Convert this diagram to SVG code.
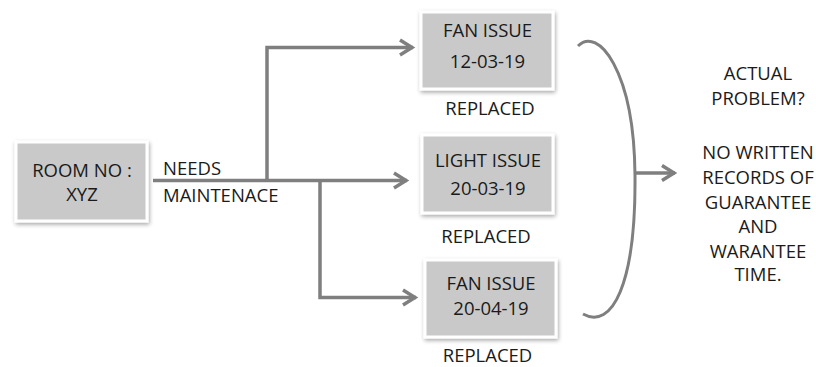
<svg xmlns="http://www.w3.org/2000/svg" width="816" height="367" viewBox="0 0 816 367">
<defs>
<filter id="sh" x="-20%" y="-20%" width="140%" height="140%">
<feGaussianBlur in="SourceAlpha" stdDeviation="2"/>
<feOffset dx="1" dy="2" result="b"/>
<feComponentTransfer><feFuncA type="linear" slope="0.35"/></feComponentTransfer>
<feMerge><feMergeNode/><feMergeNode in="SourceGraphic"/></feMerge>
</filter>
<marker id="ah" markerUnits="userSpaceOnUse" markerWidth="20" markerHeight="20" viewBox="-16 -10 20 20" refX="0" refY="0" orient="auto">
<path d="M-13,-7.5 L-1,0 L-13,7.5" fill="none" stroke="#7f7f7f" stroke-width="3.5" stroke-linejoin="miter"/>
</marker>
</defs>
<style>
.box{fill:#c9c9c9;stroke:#ffffff;stroke-width:3;filter:url(#sh)}
.t{font-family:"Open Sans","Liberation Sans",sans-serif;font-size:18.5px;fill:#1a1a1a}
.c{text-anchor:middle}
.ln{fill:none;stroke:#7f7f7f;stroke-width:3.5}
</style>
<rect width="816" height="367" fill="#ffffff"/>
<g id="connectors">
<path class="ln" d="M153,180.5 H407" marker-end="url(#ah)"/>
<path class="ln" d="M267,180.5 V47.5 H413" marker-end="url(#ah)"/>
<path class="ln" d="M320,180.5 V297.5 H416" marker-end="url(#ah)"/>
<path d="M578,46 C598,26 634,70 635,175 C636,285 612,330 583,314" fill="none" stroke="#7f7f7f" stroke-width="3"/>
<path class="ln" d="M636,173 H675" marker-end="url(#ah)"/>
</g>
<g id="room">
<rect class="box" x="16" y="142" width="131" height="79"/>
<text class="t c" x="82" y="177">ROOM NO :</text>
<text class="t c" x="82" y="201">XYZ</text>
</g>
<g id="needs-label">
<text class="t" x="163" y="175">NEEDS</text>
<text class="t" x="163" y="201.5">MAINTENACE</text>
</g>
<g id="fan1">
<rect class="box" x="421" y="12" width="132" height="77"/>
<text class="t c" x="487.5" y="37">FAN ISSUE</text>
<text class="t c" x="487.5" y="68">12-03-19</text>
<text class="t c" x="490" y="115">REPLACED</text>
</g>
<g id="light">
<rect class="box" x="422" y="135" width="131" height="78"/>
<text class="t c" x="488" y="167">LIGHT ISSUE</text>
<text class="t c" x="488" y="194.5">20-03-19</text>
<text class="t c" x="486" y="243">REPLACED</text>
</g>
<g id="fan2">
<rect class="box" x="425" y="260" width="131" height="77"/>
<text class="t c" x="491" y="290">FAN ISSUE</text>
<text class="t c" x="491" y="315">20-04-19</text>
<text class="t c" x="487.5" y="362">REPLACED</text>
</g>
<g id="conclusion">
<text class="t c" x="758" y="80">ACTUAL</text>
<text class="t c" x="758" y="104.5">PROBLEM?</text>
<text class="t c" x="758" y="158.5">NO WRITTEN</text>
<text class="t c" x="758" y="184">RECORDS OF</text>
<text class="t c" x="758" y="208.5">GUARANTEE</text>
<text class="t c" x="758" y="233">AND</text>
<text class="t c" x="758" y="257.5">WARANTEE</text>
<text class="t c" x="758" y="281">TIME.</text>
</g>
</svg>
